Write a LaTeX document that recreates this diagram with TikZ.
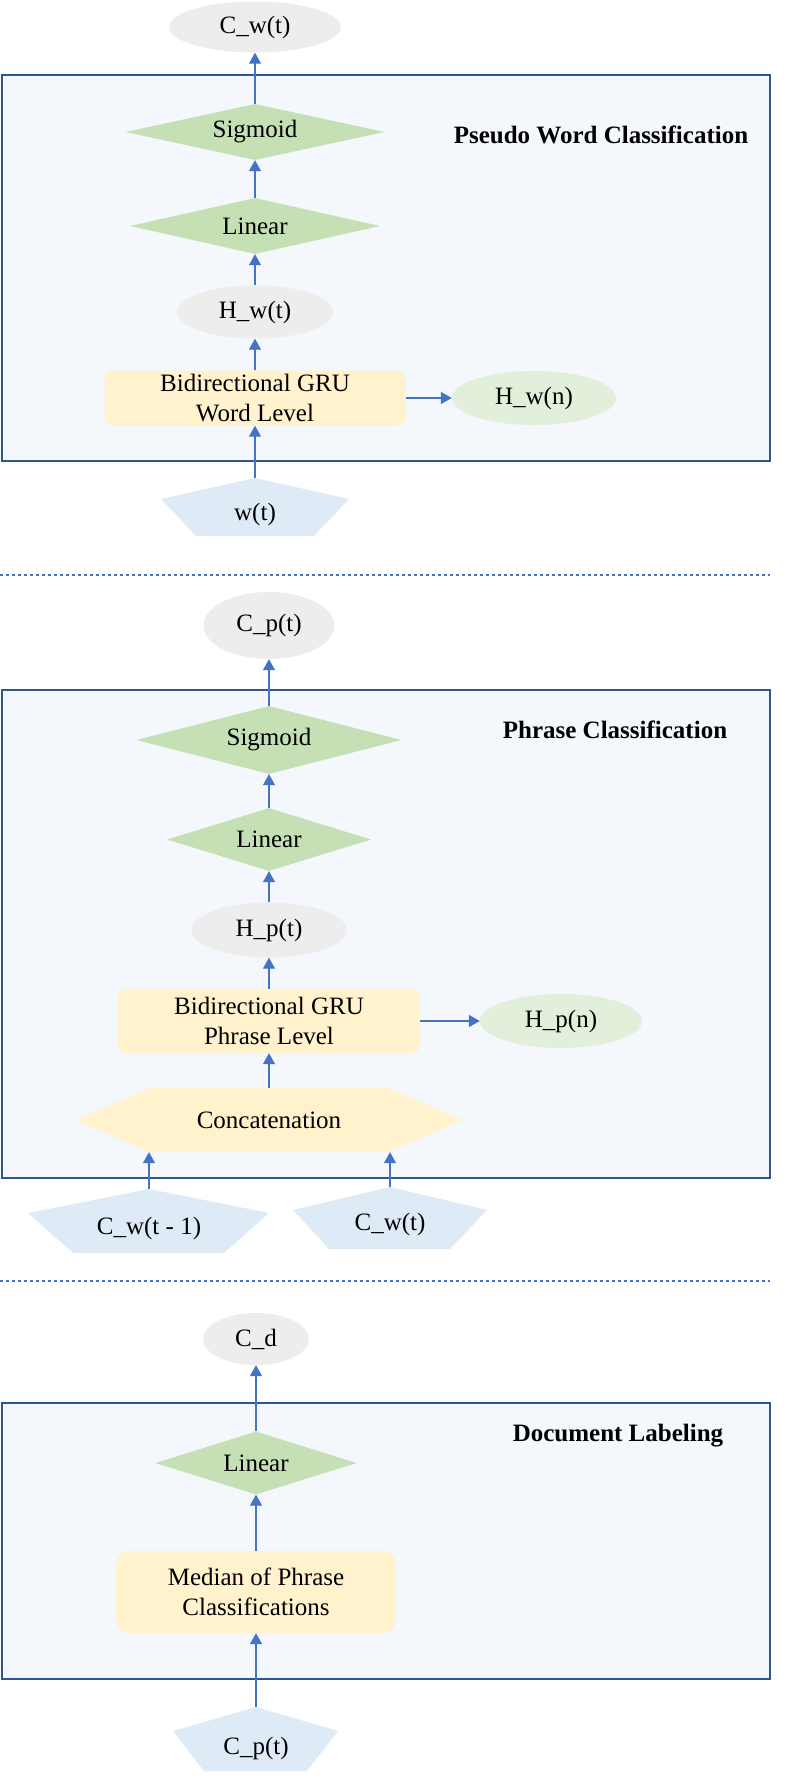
\documentclass[tikz,border=0pt]{standalone}
\usepackage{fontspec}
\setmainfont{Liberation Serif}
\usetikzlibrary{shapes.geometric,arrows.meta}
\definecolor{arr}{HTML}{4472C4}
\definecolor{frame}{HTML}{2F5597}
\definecolor{panel}{HTML}{F4F7FC}
\definecolor{greyell}{HTML}{EDEDED}
\definecolor{greenell}{HTML}{E2EFDA}
\definecolor{dia}{HTML}{C5E0B4}
\definecolor{yel}{HTML}{FFF2CC}
\definecolor{pent}{HTML}{DEEBF7}
\begin{document}
\begin{tikzpicture}[x=1pt,y=-1pt,
 every node/.style={font=\fontsize{25}{29.5}\selectfont, inner sep=0pt, align=center},
 panelbox/.style={draw=frame, line width=2.2pt, fill=panel},
 greyoval/.style={ellipse, fill=greyell},
 greenoval/.style={ellipse, fill=greenell},
 diam/.style={diamond, aspect=4, fill=dia},
 grubox/.style={rectangle, rounded corners=8pt, fill=yel},
 flow/.style={-{Triangle[width=12pt,length=11pt]}, draw=arr, line width=1.2pt},
 sepline/.style={draw=arr, line width=2.8pt, dash pattern=on 3pt off 3pt},
 title/.style={font=\fontsize{25}{30}\selectfont\bfseries},
 pentfill/.style={fill=pent}
]
\useasboundingbox (0,0) rectangle (789,1777);

% panels
\draw[panelbox] (2,75) rectangle (770,461);
\draw[panelbox] (2,690) rectangle (770,1178);
\draw[panelbox] (2,1403) rectangle (770,1679);

% separators
\draw[sepline] (0,575) -- (770,575);
\draw[sepline] (0,1281) -- (770,1281);

% ---------- Section 1 ----------
\node[greyoval, minimum width=172pt, minimum height=51pt] (cwt) at (255,27) {C\_w(t)};
\node[diam, minimum width=259pt, minimum height=56pt] (sig1) at (255,132) {Sigmoid};
\node[diam, minimum width=250pt, minimum height=56pt] (lin1) at (255,226) {Linear};
\node[greyoval, minimum width=156pt, minimum height=53pt] (hwt) at (255,312) {H\_w(t)};
\node[grubox, minimum width=301pt, minimum height=55pt] (gru1) at (255,398) {Bidirectional GRU\\Word Level};
\node[greenoval, minimum width=164pt, minimum height=54pt] (hwn) at (534,398) {H\_w(n)};
\node[title] (t1) at (601,135) {Pseudo Word Classification};
\fill[pentfill] (255,478) -- (349,499) -- (314,536) -- (196,536) -- (161,499) -- cycle;
\node (wt) at (255,514) {w(t)};
\coordinate (wtop) at (255,478);

\draw[flow] (wtop) -- (gru1.south);
\draw[flow] (gru1.north) -- (hwt.south);
\draw[flow] (hwt.north) -- (lin1.south);
\draw[flow] (lin1.north) -- (sig1.south);
\draw[flow] (sig1.north) -- (cwt.south);
\draw[flow] (gru1.east) -- (hwn.west);

% ---------- Section 2 ----------
\node[greyoval, minimum width=131pt, minimum height=67pt] (cpt) at (269,625.5) {C\_p(t)};
\node[diam, minimum width=265pt, minimum height=68pt] (sig2) at (269,740) {Sigmoid};
\node[diam, minimum width=204pt, minimum height=63pt] (lin2) at (269,839.5) {Linear};
\node[greyoval, minimum width=155pt, minimum height=55pt] (hpt) at (269,930) {H\_p(t)};
\node[grubox, minimum width=302pt, minimum height=64pt] (gru2) at (269,1021) {Bidirectional GRU\\Phrase Level};
\node[greenoval, minimum width=162pt, minimum height=54pt] (hpn) at (561,1021) {H\_p(n)};
\node[title] (t2) at (615,730) {Phrase Classification};
\fill[yel] (75,1120) -- (150,1088) -- (388,1088) -- (463,1120) -- (388,1152) -- (150,1152) -- cycle;
\node[minimum width=238pt, minimum height=64pt] (concat) at (269,1120) {Concatenation};
\fill[pentfill] (149,1189) -- (269,1213) -- (224,1253) -- (73,1253) -- (28,1213) -- cycle;
\node (cw1) at (149,1228) {C\_w(t - 1)};
\coordinate (cw1top) at (149,1189);
\fill[pentfill] (390,1187) -- (487,1210) -- (450,1249) -- (329,1249) -- (293,1210) -- cycle;
\node (cw2) at (390,1224) {C\_w(t)};
\coordinate (cw2top) at (390,1187);

\draw[flow] (cw1top) -- (cw1top |- concat.south);
\draw[flow] (cw2top) -- (cw2top |- concat.south);
\draw[flow] (concat.north) -- (gru2.south);
\draw[flow] (gru2.north) -- (hpt.south);
\draw[flow] (hpt.north) -- (lin2.south);
\draw[flow] (lin2.north) -- (sig2.south);
\draw[flow] (sig2.north) -- (cpt.south);
\draw[flow] (gru2.east) -- (hpn.west);

% ---------- Section 3 ----------
\node[greyoval, minimum width=106pt, minimum height=52pt] (cd) at (256,1339) {C\_d};
\node[diam, minimum width=201pt, minimum height=63pt] (lin3) at (256,1463) {Linear};
\node[title] (t3) at (618,1436) {Document Labeling};
\node[grubox, rounded corners=13pt, minimum width=280pt, minimum height=82pt] (median) at (256,1592) {Median of Phrase\\Classifications};
\fill[pentfill] (256,1707) -- (338,1731) -- (307,1771) -- (204,1771) -- (173,1731) -- cycle;
\node (cp) at (256,1748) {C\_p(t)};
\coordinate (cptop) at (256,1707);

\draw[flow] (cptop) -- (median.south);
\draw[flow] (median.north) -- (lin3.south);
\draw[flow] (lin3.north) -- (cd.south);
\end{tikzpicture}
\end{document}
